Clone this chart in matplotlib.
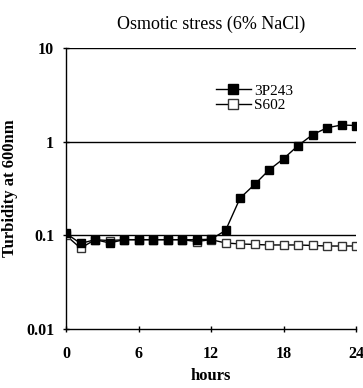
import numpy as np
import matplotlib.pyplot as plt

plt.rcParams['font.family'] = ['Liberation Serif', 'DejaVu Serif']

# sampling times (hours)
hours = [0, 1.2, 2.4, 3.6, 4.8, 6.0, 7.2, 8.4, 9.6, 10.8, 12.0,
         13.2, 14.4, 15.6, 16.8, 18.0, 19.2, 20.4, 21.6, 22.8, 24.0]

# turbidity at 600nm
strain_3p243 = [0.105, 0.082, 0.090, 0.083, 0.090, 0.090, 0.090, 0.090, 0.090, 0.090, 0.091,
                0.113, 0.25, 0.35, 0.50, 0.66, 0.91, 1.19, 1.41, 1.51, 1.49]
strain_s602 = [0.100, 0.073, 0.090, 0.088, 0.090, 0.090, 0.090, 0.090, 0.090, 0.086, 0.090,
               0.083, 0.081, 0.080, 0.079, 0.079, 0.079, 0.078, 0.077, 0.077, 0.077]

xticks = [0, 6, 12, 18, 24]
yticks = [0.01, 0.1, 1, 10]
yticklabels = ['0.01', '0.1', '1', '10']

fig = plt.figure(figsize=(3.63, 3.88), dpi=100)
ax = fig.add_axes([0.182, 0.152, 0.799, 0.724])

# horizontal reference lines
for v in [0.1, 1, 10]:
    ax.axhline(v, color='black', lw=1.0, zorder=1)

ax.plot(hours, strain_s602, color='black', lw=1.0, marker='s', ms=5.5,
        mfc='white', mec='#333333', mew=1.0, label='S602', zorder=2)
ax.plot(hours, strain_3p243, color='black', lw=1.0, marker='s', ms=5.5,
        mfc='black', mec='black', label='3P243', zorder=3)

ax.set_yscale('log')
ax.set_ylim(0.01, 10)
ax.set_xlim(0, 24)
ax.set_yticks(yticks)
ax.set_yticklabels(yticklabels)
ax.yaxis.set_minor_locator(plt.NullLocator())
ax.set_xticks(xticks)

for s in ['top', 'right']:
    ax.spines[s].set_visible(False)
ax.spines['left'].set_linewidth(1.0)
ax.spines['bottom'].set_linewidth(1.0)
ax.tick_params(axis='both', direction='inout', length=5, width=1.0, labelsize=11.5)
ax.tick_params(axis='x', pad=10)
ax.tick_params(axis='y', pad=6)
for lab in ax.get_xticklabels() + ax.get_yticklabels():
    lab.set_fontweight('bold')

ax.set_title('Osmotic stress (6% NaCl)', fontsize=13, pad=14)
ax.set_xlabel('hours', fontsize=12, fontweight='bold', labelpad=4)
ax.set_ylabel('Turbidity at 600nm', fontsize=12, fontweight='bold', labelpad=6)

handles, labels = ax.get_legend_handles_labels()
ax.legend(handles[::-1], labels[::-1], loc='upper left', bbox_to_anchor=(0.49, 0.9),
          frameon=False, fontsize=11, handlelength=2.3, handletextpad=0.2,
          labelspacing=0.05, borderpad=0, markerscale=1.2)

fig.savefig('out.png', dpi=100)
